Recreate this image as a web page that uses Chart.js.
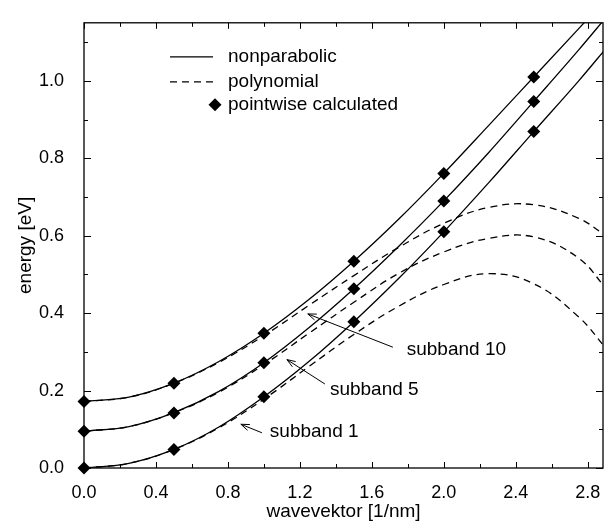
<!DOCTYPE html>
<html>
<head>
<meta charset="utf-8">
<script src="https://cdn.jsdelivr.net/npm/chart.js@4.4.1/dist/chart.umd.min.js"></script>
<style>
  html, body { margin: 0; padding: 0; background: #fff; }
  #wrap { width: 613px; height: 521px; }
</style>
</head>
<body>
<div id="wrap"><canvas id="bandChart" width="613" height="521"></canvas></div>
<script>
// wavevector samples for the continuous curves [1/nm]
var kCurve = [0, 0.25, 0.5, 0.75, 1.0, 1.25, 1.5, 1.75, 2.0, 2.25, 2.5, 2.75, 2.9];

// nonparabolic dispersion [eV]
var nonpar1  = [0, 0.012, 0.048, 0.106, 0.184, 0.275, 0.378, 0.490, 0.610, 0.737, 0.869, 1.000, 1.083];
var nonpar5  = [0.095, 0.107, 0.143, 0.198, 0.272, 0.362, 0.463, 0.573, 0.690, 0.815, 0.947, 1.080, 1.163];
var nonpar10 = [0.172, 0.183, 0.219, 0.275, 0.348, 0.435, 0.534, 0.643, 0.761, 0.885, 1.010, 1.135, 1.210];

// polynomial fit [eV]
var poly1  = [0, 0.012, 0.048, 0.104, 0.178, 0.262, 0.345, 0.418, 0.474, 0.502, 0.476, 0.390, 0.310];
var poly5  = [0.095, 0.107, 0.143, 0.196, 0.267, 0.348, 0.428, 0.503, 0.558, 0.593, 0.597, 0.542, 0.465];
var poly10 = [0.172, 0.183, 0.219, 0.273, 0.342, 0.420, 0.497, 0.570, 0.632, 0.673, 0.680, 0.645, 0.600];

// pointwise calculated energies
var kCalc  = [0, 0.5, 1.0, 1.5, 2.0, 2.5];
var calc1  = [0, 0.048, 0.184, 0.378, 0.610, 0.869];
var calc5  = [0.095, 0.142, 0.272, 0.463, 0.690, 0.947];
var calc10 = [0.172, 0.219, 0.348, 0.534, 0.761, 1.010];

var xTicks = [0, 0.4, 0.8, 1.2, 1.6, 2.0, 2.4, 2.8];
var yTicks = [0, 0.2, 0.4, 0.6, 0.8, 1.0];

// subband labels: text, arrow tip, arrow tail, text anchor (data units)
var subbandNotes = [
  { text: 'subband 10', tip: [1.244, 0.398], tail: [1.717, 0.312], at: [1.794, 0.305] },
  { text: 'subband 5',  tip: [1.128, 0.280], tail: [1.339, 0.217], at: [1.367, 0.201] },
  { text: 'subband 1',  tip: [0.872, 0.113], tail: [0.989, 0.091], at: [1.033, 0.093] }
];

var FONT = '"Liberation Sans", Arial, Helvetica, sans-serif';
var INK = '#000';

function pairs(xs, ys) {
  var out = [];
  for (var i = 0; i < xs.length; i++) out.push({ x: xs[i], y: ys[i] });
  return out;
}

function curve(ys, dashed) {
  var ds = {
    data: pairs(kCurve, ys),
    borderColor: INK,
    borderWidth: 1.3,
    borderDash: dashed ? [7, 5] : [],
    pointRadius: 0,
    fill: false,
    showLine: true
  };
  // the fitted polynomials turn over smoothly, keep their peaks round
  if (dashed) ds.tension = 0.4;
  else ds.cubicInterpolationMode = 'monotone';
  return ds;
}

function diamonds(ys) {
  return {
    data: pairs(kCalc, ys),
    showLine: false,
    pointStyle: 'rectRot',
    pointRadius: 6.5,
    pointBackgroundColor: INK,
    pointBorderColor: INK,
    borderWidth: 0,
    clip: false
  };
}

// frame, inward ticks, legend and subband labels
var decorations = {
  id: 'decorations',
  afterDatasetsDraw: function (chart) {
    var ctx = chart.ctx;
    var a = chart.chartArea;
    var xs = chart.scales.x, ys = chart.scales.y;
    ctx.save();
    ctx.strokeStyle = INK;
    ctx.fillStyle = INK;
    ctx.lineWidth = 1.3;
    ctx.setLineDash([]);
    ctx.strokeRect(a.left, a.top, a.right - a.left, a.bottom - a.top);

    ctx.lineWidth = 1;
    var v, p, len;
    for (var i = 0; i <= 14; i++) {
      v = i * 0.2;
      if (v > xs.max) break;
      p = Math.round(xs.getPixelForValue(v)) + 0.5;
      len = (i % 2 === 0) ? 6 : 4;
      ctx.beginPath();
      ctx.moveTo(p, a.bottom); ctx.lineTo(p, a.bottom - len);
      ctx.moveTo(p, a.top); ctx.lineTo(p, a.top + len);
      ctx.stroke();
    }
    for (var j = 0; j <= 11; j++) {
      v = j * 0.1;
      p = Math.round(ys.getPixelForValue(v)) + 0.5;
      len = (j % 2 === 0) ? 7 : 4;
      ctx.beginPath();
      ctx.moveTo(a.left, p); ctx.lineTo(a.left + len, p);
      ctx.moveTo(a.right, p); ctx.lineTo(a.right - len, p);
      ctx.stroke();
    }

    // legend
    var lx0 = a.left + 86, lx1 = a.left + 129, tx = a.left + 144;
    var rows = [a.top + 34, a.top + 59, a.top + 82];
    ctx.font = '19px ' + FONT;
    ctx.textBaseline = 'middle';
    ctx.textAlign = 'left';
    ctx.lineWidth = 1.3;
    ctx.beginPath(); ctx.moveTo(lx0, rows[0]); ctx.lineTo(lx1, rows[0]); ctx.stroke();
    ctx.setLineDash([7, 5]);
    ctx.beginPath(); ctx.moveTo(lx0, rows[1]); ctx.lineTo(lx1, rows[1]); ctx.stroke();
    ctx.setLineDash([]);
    var dx = a.left + 131, r = 6.5;
    ctx.beginPath();
    ctx.moveTo(dx, rows[2] - r); ctx.lineTo(dx + r, rows[2]);
    ctx.lineTo(dx, rows[2] + r); ctx.lineTo(dx - r, rows[2]);
    ctx.closePath(); ctx.fill();
    ctx.fillText('nonparabolic', tx, rows[0]);
    ctx.fillText('polynomial', tx, rows[1]);
    ctx.fillText('pointwise calculated', tx, rows[2]);

    // subband labels with arrows
    ctx.lineWidth = 1;
    subbandNotes.forEach(function (n) {
      var tipX = xs.getPixelForValue(n.tip[0]), tipY = ys.getPixelForValue(n.tip[1]);
      var tailX = xs.getPixelForValue(n.tail[0]), tailY = ys.getPixelForValue(n.tail[1]);
      var ang = Math.atan2(tailY - tipY, tailX - tipX);
      ctx.beginPath();
      ctx.moveTo(tailX, tailY); ctx.lineTo(tipX, tipY);
      ctx.moveTo(tipX + 9 * Math.cos(ang + 0.35), tipY + 9 * Math.sin(ang + 0.35));
      ctx.lineTo(tipX, tipY);
      ctx.lineTo(tipX + 9 * Math.cos(ang - 0.35), tipY + 9 * Math.sin(ang - 0.35));
      ctx.stroke();
      ctx.fillText(n.text, xs.getPixelForValue(n.at[0]), ys.getPixelForValue(n.at[1]));
    });
    ctx.restore();
  }
};

var ctx = document.getElementById('bandChart').getContext('2d');
var bandChart = new Chart(ctx, {
  type: 'line',
  data: {
    datasets: [
      diamonds(calc1), diamonds(calc5), diamonds(calc10),
      curve(nonpar1, false), curve(nonpar5, false), curve(nonpar10, false),
      curve(poly1, true), curve(poly5, true), curve(poly10, true)
    ]
  },
  options: {
    responsive: false,
    animation: false,
    events: [],
    layout: { padding: { top: 11, right: 10, left: 0, bottom: 0 } },
    plugins: { legend: { display: false }, tooltip: { enabled: false } },
    scales: {
      x: {
        type: 'linear',
        min: 0,
        max: 2.885,
        grid: { display: false },
        border: { display: false },
        afterFit: function (s) { s.height = 53; },
        afterBuildTicks: function (s) { s.ticks = xTicks.map(function (v) { return { value: v }; }); },
        ticks: {
          color: INK,
          padding: 6,
          maxRotation: 0,
          autoSkip: false,
          font: { family: FONT, size: 18 },
          callback: function (v) { return Number(v).toFixed(1); }
        },
        title: {
          display: true,
          text: 'wavevektor [1/nm]',
          color: INK,
          padding: { top: 0, bottom: 0 },
          font: { family: FONT, size: 19, lineHeight: 1 }
        }
      },
      y: {
        type: 'linear',
        min: 0,
        max: 1.15,
        grid: { display: false },
        border: { display: false },
        afterFit: function (s) { s.width = 84; },
        afterBuildTicks: function (s) { s.ticks = yTicks.map(function (v) { return { value: v }; }); },
        ticks: {
          color: INK,
          padding: 12,
          autoSkip: false,
          font: { family: FONT, size: 18 },
          callback: function (v) { return Number(v).toFixed(1); }
        },
        title: {
          display: true,
          text: 'energy [eV]',
          color: INK,
          padding: { top: 16, bottom: 0 },
          font: { family: FONT, size: 19, lineHeight: 1 }
        }
      }
    }
  },
  plugins: [decorations]
});
</script>
</body>
</html>
